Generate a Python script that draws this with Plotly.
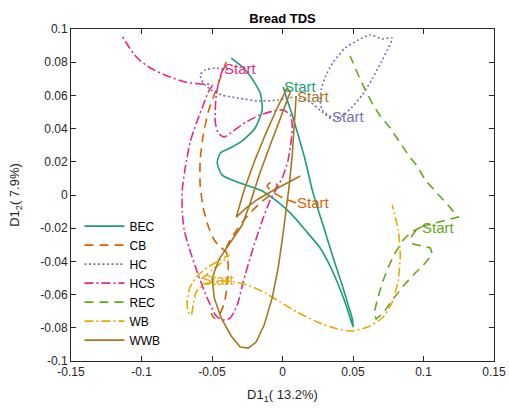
import plotly.graph_objects as go

# Trajectories in the first two TDS dimensions, one per bread type
series_names = ["BEC", "CB", "HC", "HCS", "REC", "WB", "WWB"]
series_colors = ["#1b9e77", "#d95f02", "#7570b3", "#e7298a", "#66a61e", "#e6ab02", "#a6761d"]
series_dash = ["solid", "9px,6px", "2px,2.5px", "9px,3px,2px,3px", "9px,6px", "9px,3px,2px,3px", "solid"]

bec_x = [0.0005, 0.0033, 0.0069, 0.0111, 0.0161, 0.0211, 0.0253, 0.0303, 0.0360, 0.0423, 0.0466, 0.0494,
         0.0501, 0.0480, 0.0438, 0.0388, 0.0338, 0.0267, 0.0161, 0.0055, -0.0052, -0.0158, -0.0300, -0.0428,
         -0.0463, -0.0441, -0.0371, -0.0279, -0.0194, -0.0144, -0.0158, -0.0229, -0.0300, -0.0364]
bec_y = [0.0651, 0.0572, 0.0482, 0.0361, 0.0211, 0.0030, -0.0090, -0.0223, -0.0380, -0.0542, -0.0663, -0.0741,
         -0.0795, -0.0741, -0.0633, -0.0524, -0.0428, -0.0319, -0.0211, -0.0108, -0.0030, 0.0030, 0.0072, 0.0120,
         0.0193, 0.0253, 0.0283, 0.0331, 0.0404, 0.0512, 0.0614, 0.0717, 0.0783, 0.0825]

cb_x = [0.0097, 0.0019, -0.0059, -0.0109, -0.0080, -0.0038, -0.0073, -0.0158, -0.0243, -0.0314, -0.0371, -0.0399,
        None,
        -0.0399, -0.0435, -0.0477, -0.0527, -0.0562, -0.0584, -0.0584, -0.0562, -0.0527, -0.0484, -0.0442, -0.0399,
        -0.0385, -0.0392, -0.0413, -0.0449, -0.0484, -0.0506]
cb_y = [-0.0048, -0.0024, 0.0012, 0.0054, 0.0078, 0.0060, 0.0012, -0.0048, -0.0120, -0.0199, -0.0271, -0.0319,
        None,
        0.0801, 0.0717, 0.0620, 0.0500, 0.0361, 0.0211, 0.0060, -0.0078, -0.0187, -0.0271, -0.0313, -0.0343,
        -0.0422, -0.0542, -0.0651, -0.0723, -0.0741, -0.0711]

hc_x = [0.0345, 0.0282, 0.0267, 0.0274, 0.0303, 0.0360, 0.0445, 0.0537, 0.0622, 0.0707, 0.0778, 0.0743, 0.0700,
        0.0636, 0.0565, 0.0494, 0.0423, 0.0360, 0.0282, 0.0196, 0.0090, -0.0030, -0.0172, -0.0314, -0.0428,
        -0.0506, -0.0562, -0.0584, -0.0548, -0.0477, -0.0385]
hc_y = [0.0470, 0.0512, 0.0572, 0.0633, 0.0711, 0.0801, 0.0886, 0.0934, 0.0964, 0.0940, 0.0946, 0.0873, 0.0801,
        0.0699, 0.0602, 0.0530, 0.0476, 0.0452, 0.0500, 0.0560, 0.0590, 0.0572, 0.0566, 0.0584, 0.0602, 0.0633,
        0.0675, 0.0723, 0.0753, 0.0765, 0.0753]

hcs_x = [-0.0421, -0.0449, -0.0470, -0.0477, -0.0477, -0.0456, -0.0413, -0.0350, -0.0257, -0.0158, -0.0066,
         0.0005, 0.0055, 0.0069, 0.0062, 0.0040, -0.0002, -0.0052, -0.0087, -0.0137, -0.0208, -0.0279, -0.0321,
         -0.0371, -0.0421, -0.0470, -0.0534, -0.0605, -0.0662, -0.0697, -0.0711, -0.0711, -0.0690, -0.0655,
         -0.0605, -0.0562, -0.0527, -0.0498, -0.0584, -0.0690, -0.0818, -0.0938, -0.1030, -0.1094, -0.1137]
hcs_y = [0.0765, 0.0693, 0.0602, 0.0512, 0.0440, 0.0373, 0.0349, 0.0386, 0.0440, 0.0482, 0.0506, 0.0512, 0.0482,
         0.0422, 0.0331, 0.0211, 0.0102, 0.0024, -0.0030, -0.0139, -0.0319, -0.0524, -0.0663, -0.0741, -0.0753,
         -0.0729, -0.0620, -0.0464, -0.0319, -0.0211, -0.0102, 0.0030, 0.0163, 0.0319, 0.0446, 0.0542, 0.0620,
         0.0663, 0.0669, 0.0681, 0.0717, 0.0765, 0.0825, 0.0898, 0.0958]

rec_x = [0.0984, 0.0913, 0.0856, 0.0799, 0.0750, 0.0707, 0.0672, 0.0650, 0.0665, 0.0714, 0.0785, 0.0863, 0.0941,
         0.1012, 0.1062, 0.1048, 0.0991, 0.0927, 0.0913, 0.0948, 0.0998, 0.1118, 0.1246, 0.1154, 0.1083, 0.1012,
         0.0955, 0.0892, 0.0835, 0.0764, 0.0693, 0.0643, 0.0587, 0.0537, 0.0480]
rec_y = [-0.0193, -0.0223, -0.0271, -0.0349, -0.0434, -0.0530, -0.0633, -0.0711, -0.0747, -0.0711, -0.0627,
         -0.0542, -0.0470, -0.0410, -0.0355, -0.0319, -0.0307, -0.0295, -0.0253, -0.0211, -0.0187, -0.0163,
         -0.0133, -0.0042, 0.0024, 0.0090, 0.0175, 0.0241, 0.0313, 0.0404, 0.0476, 0.0542, 0.0633, 0.0723, 0.0837]

wb_x = [-0.0577, -0.0499, -0.0428, -0.0378, -0.0442, -0.0527, -0.0605, -0.0655, -0.0676, -0.0669, -0.0648,
        -0.0633, -0.0612, -0.0548, -0.0442, -0.0335, -0.0229, -0.0123, -0.0016, 0.0104, 0.0246, 0.0388, 0.0501,
        0.0622, 0.0714, 0.0778, 0.0821, 0.0835, 0.0821, 0.0778]
wb_y = [-0.0506, -0.0452, -0.0404, -0.0361, -0.0392, -0.0434, -0.0488, -0.0554, -0.0633, -0.0705, -0.0723,
        -0.0663, -0.0584, -0.0536, -0.0518, -0.0524, -0.0548, -0.0590, -0.0645, -0.0705, -0.0765, -0.0807,
        -0.0819, -0.0789, -0.0735, -0.0645, -0.0512, -0.0361, -0.0211, -0.0060]

wwb_x = [0.0097, 0.0083, 0.0069, 0.0048, 0.0026, -0.0002, -0.0031, -0.0073, -0.0130, -0.0187, -0.0243, -0.0300,
         -0.0364, -0.0435, -0.0484, -0.0499, -0.0449, -0.0364, -0.0286, -0.0229, -0.0165, -0.0087, -0.0009,
         0.0055, 0.0033, -0.0038, -0.0123, -0.0201, -0.0272, -0.0328, -0.0257, -0.0172, -0.0073, 0.0033, 0.0126]
wwb_y = [0.0596, 0.0422, 0.0241, 0.0060, -0.0102, -0.0271, -0.0440, -0.0620, -0.0783, -0.0886, -0.0922, -0.0916,
         -0.0849, -0.0741, -0.0620, -0.0500, -0.0386, -0.0283, -0.0181, -0.0048, 0.0120, 0.0301, 0.0482, 0.0620,
         0.0645, 0.0524, 0.0361, 0.0199, 0.0030, -0.0133, -0.0078, -0.0024, 0.0024, 0.0072, 0.0114]

series_x = [bec_x, cb_x, hc_x, hcs_x, rec_x, wb_x, wwb_x]
series_y = [bec_y, cb_y, hc_y, hcs_y, rec_y, wb_y, wwb_y]
series_shape = ["spline", "spline", "spline", "spline", "linear", "spline", "linear"]

x_ticks = [-0.15, -0.1, -0.05, 0, 0.05, 0.1, 0.15]
x_tick_text = ["-0.15", "-0.1", "-0.05", "0", "0.05", "0.1", "0.15"]
y_ticks = [-0.1, -0.08, -0.06, -0.04, -0.02, 0, 0.02, 0.04, 0.06, 0.08, 0.1]
y_tick_text = ["-0.1", "-0.08", "-0.06", "-0.04", "-0.02", "0", "0.02", "0.04", "0.06", "0.08", "0.1"]

FONT = "Liberation Sans, Arial, Helvetica, sans-serif"
AX = "#262626"

fig = go.Figure()
for name, xs, ys, col, dash, shp in zip(series_names, series_x, series_y, series_colors, series_dash, series_shape):
    fig.add_trace(go.Scatter(
        x=xs, y=ys, mode="lines", name=name,
        line=dict(color=col, width=1.6, dash=dash, shape=shp, smoothing=0.6 if shp == "spline" else None),
        connectgaps=False,
    ))
    # label the first point of each trajectory
    fig.add_annotation(x=xs[0], y=ys[0], text="Start", showarrow=False,
                       xanchor="left", yanchor="middle", xshift=-1,
                       font=dict(family=FONT, size=15, color=col))

axis_common = dict(showline=True, linecolor=AX, linewidth=1, mirror="ticks", ticks="inside",
                   ticklen=5, tickcolor=AX, showgrid=False, zeroline=False, automargin=False,
                   tickfont=dict(family=FONT, size=12, color=AX))

fig.update_layout(
    width=509, height=408,
    margin=dict(l=71, r=15, t=29, b=47, autoexpand=False),
    paper_bgcolor="white", plot_bgcolor="white",
    title=dict(text="<b>Bread TDS</b>", x=0.5, xref="paper", xanchor="center",
               y=1 - 18 / 408, yanchor="middle", font=dict(family=FONT, size=13, color="black")),
    xaxis=dict(range=[-0.15, 0.15], tickvals=x_ticks, ticktext=x_tick_text,
               title=dict(text="D1<sub>1</sub>( 13.2%)", font=dict(family=FONT, size=13, color=AX), standoff=11),
               **axis_common),
    yaxis=dict(range=[-0.1, 0.1], tickvals=y_ticks, ticktext=y_tick_text,
               title=dict(text="D1<sub>2</sub>( 7.9%)", font=dict(family=FONT, size=13, color=AX), standoff=17),
               **axis_common),
    legend=dict(x=0.02, y=0.45, xanchor="left", yanchor="top", bgcolor="rgba(0,0,0,0)",
                borderwidth=0, font=dict(family=FONT, size=12, color="black"), tracegroupgap=0,
                itemwidth=40),
    showlegend=True,
)

fig.write_html("out.html")
